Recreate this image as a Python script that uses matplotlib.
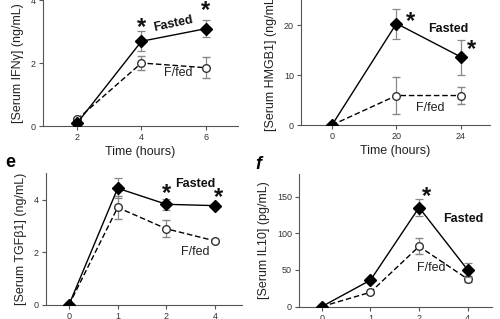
import matplotlib
matplotlib.use("Agg")
import matplotlib.pyplot as plt

plt.rcParams['font.family'] = ['Liberation Sans', 'DejaVu Sans']

# panel a: IFNy
ifn_x = ["2", "4", "6"]
ifn_fasted = [0.09, 2.69, 3.09]
ifn_fasted_err = [0.0, 0.32, 0.27]
ifn_fed = [0.21, 2.0, 1.85]
ifn_fed_err = [0.0, 0.21, 0.34]

# panel b: HMGB1
hmg_x = ["0", "20", "24"]
hmg_fasted = [0.0, 20.3, 13.6]
hmg_fasted_err = [0.0, 3.0, 3.5]
hmg_fed = [0.0, 5.9, 5.9]
hmg_fed_err = [0.0, 3.75, 1.7]

# panel e: TGFb1
tgf_x = ["0", "1", "2", "4"]
tgf_fasted = [0.0, 4.43, 3.82, 3.77]
tgf_fasted_err = [0.0, 0.37, 0.22, 0.05]
tgf_fed = [0.0, 3.70, 2.89, 2.43]
tgf_fed_err = [0.0, 0.45, 0.32, 0.05]

# panel f: IL10
il_x = ["0", "1", "2", "4"]
il_fasted = [0.0, 36.0, 135.0, 50.0]
il_fasted_err = [0.0, 2.0, 11.0, 10.0]
il_fed = [0.0, 19.5, 82.0, 37.5]
il_fed_err = [0.0, 2.0, 11.0, 4.0]

fig = plt.figure(figsize=(5, 3.19), dpi=100)

def panel(rect, xlabels, fasted, fasted_err, fed, fed_err, ylim, yticks, xlim, ylabel, xlabel=None):
    ax = fig.add_axes(rect)
    x = list(range(len(xlabels)))
    ax.errorbar(x, fed, yerr=fed_err, color='black', ls='--', lw=1.0, marker='o', ms=5.5,
                mfc='white', mec='#333333', mew=1.0, ecolor='#888888', elinewidth=0.9,
                capsize=3, capthick=0.9, zorder=2, dashes=(4, 2))
    ax.errorbar(x, fasted, yerr=fasted_err, color='black', ls='-', lw=1.0, marker='D', ms=6,
                mfc='black', mec='black', ecolor='#888888', elinewidth=0.9,
                capsize=3, capthick=0.9, zorder=3)
    ax.set_xticks(x)
    ax.set_xticklabels(xlabels)
    ax.set_yticks(yticks)
    ax.set_xlim(*xlim)
    ax.set_ylim(*ylim)
    for s in ['top', 'right']:
        ax.spines[s].set_visible(False)
    for s in ['left', 'bottom']:
        ax.spines[s].set_color('#555555')
        ax.spines[s].set_linewidth(0.8)
    ax.tick_params(colors='#555555', labelcolor='#333333', labelsize=6.5, length=3, width=0.8, pad=2)
    ax.set_ylabel(ylabel, fontsize=9, color='#222222', labelpad=5)
    if xlabel:
        ax.set_xlabel(xlabel, fontsize=9, color='#222222', labelpad=3)
    return ax

def star(ax, x, y):
    ax.text(x, y, '*', fontsize=17, fontweight='bold', ha='center', va='center', color='#111111')

ax1 = panel([0.086, 0.605, 0.39, 0.395], ifn_x, ifn_fasted, ifn_fasted_err, ifn_fed, ifn_fed_err,
            (0, 4), [0, 2, 4], (-0.53, 2.5), '[Serum IFN\u03b3] (ng/mL)', 'Time (hours)')
star(ax1, 1.0, 3.12)
star(ax1, 2.0, 3.68)
ax1.text(1.49, 3.24, 'Fasted', fontsize=9, fontweight='bold', rotation=12, ha='center', va='center', color='#111111')
ax1.text(1.57, 1.68, 'F/fed', fontsize=9, ha='center', va='center', color='#222222')

ax2 = panel([0.602, 0.608, 0.378, 0.392], hmg_x, hmg_fasted, hmg_fasted_err, hmg_fed, hmg_fed_err,
            (0, 25), [0, 10, 20], (-0.48, 2.45), '[Serum HMGB1] (ng/mL)', 'Time (hours)')
star(ax2, 1.21, 20.6)
star(ax2, 2.16, 15.2)
ax2.text(1.81, 19.2, 'Fasted', fontsize=9, fontweight='bold', ha='center', va='center', color='#111111')
ax2.text(1.52, 3.4, 'F/fed', fontsize=9, ha='center', va='center', color='#222222')

ax3 = panel([0.092, 0.044, 0.392, 0.413], tgf_x, tgf_fasted, tgf_fasted_err, tgf_fed, tgf_fed_err,
            (0, 5), [0, 2, 4], (-0.47, 3.55), '[Serum TGF\u03b21] (ng/mL)')
star(ax3, 2.0, 4.22)
star(ax3, 3.06, 4.08)
ax3.text(2.6, 4.58, 'Fasted', fontsize=9, fontweight='bold', ha='center', va='center', color='#111111')
ax3.text(2.6, 2.0, 'F/fed', fontsize=9, ha='center', va='center', color='#222222')

ax4 = panel([0.598, 0.039, 0.385, 0.414], il_x, il_fasted, il_fasted_err, il_fed, il_fed_err,
            (0, 180), [0, 50, 100, 150], (-0.47, 3.49), '[Serum IL10] (pg/mL)')
star(ax4, 2.16, 150)
ax4.text(2.9, 120, 'Fasted', fontsize=9, fontweight='bold', ha='center', va='center', color='#111111')
ax4.text(2.26, 53, 'F/fed', fontsize=9, ha='center', va='center', color='#222222')

fig.text(0.01, 0.49, 'e', fontsize=13, fontweight='bold', ha='left', va='center')
fig.text(0.51, 0.485, 'f', fontsize=13, fontweight='bold', style='italic', ha='left', va='center')

fig.savefig('out.png', dpi=100)
